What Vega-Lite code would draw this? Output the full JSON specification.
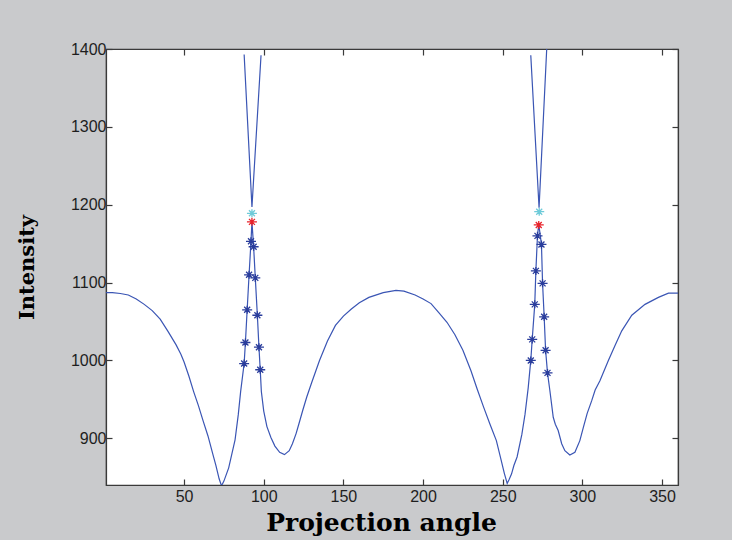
{
  "$schema": "https://vega.github.io/schema/vega-lite/v6.json",
  "width": 572,
  "height": 436,
  "autosize": {"type": "none"},
  "padding": {"left": 106, "top": 49, "right": 54, "bottom": 55},
  "background": "#c9cacc",
  "config": {
    "view": {"fill": "white", "stroke": "#3a3a3a", "strokeWidth": 1.2},
    "axis": {
      "domainColor": "#3a3a3a",
      "domainWidth": 1.2,
      "tickColor": "#3a3a3a",
      "tickWidth": 1.2,
      "tickSize": -6,
      "grid": false,
      "labelFont": "Liberation Sans",
      "labelFontSize": 16,
      "labelColor": "#1e1e1e",
      "labelFlush": false,
      "labelOverlap": false,
      "titleFont": "DejaVu Serif",
      "titleFontWeight": "bold",
      "titleFontSize": 23,
      "titleColor": "#000000"
    }
  },
  "datasets": {
    "curves": [
      {"series": "profile", "angle": 1, "intensity": 1087},
      {"series": "profile", "angle": 5, "intensity": 1087},
      {"series": "profile", "angle": 10, "intensity": 1086},
      {"series": "profile", "angle": 15, "intensity": 1084},
      {"series": "profile", "angle": 20, "intensity": 1079},
      {"series": "profile", "angle": 25, "intensity": 1072},
      {"series": "profile", "angle": 30, "intensity": 1064},
      {"series": "profile", "angle": 35, "intensity": 1053},
      {"series": "profile", "angle": 40, "intensity": 1037},
      {"series": "profile", "angle": 45, "intensity": 1020},
      {"series": "profile", "angle": 48, "intensity": 1008},
      {"series": "profile", "angle": 50, "intensity": 998},
      {"series": "profile", "angle": 53, "intensity": 980},
      {"series": "profile", "angle": 56, "intensity": 960},
      {"series": "profile", "angle": 59, "intensity": 942},
      {"series": "profile", "angle": 62, "intensity": 922},
      {"series": "profile", "angle": 65, "intensity": 903},
      {"series": "profile", "angle": 68, "intensity": 880},
      {"series": "profile", "angle": 70, "intensity": 865},
      {"series": "profile", "angle": 72, "intensity": 848},
      {"series": "profile", "angle": 73.5, "intensity": 839},
      {"series": "profile", "angle": 75, "intensity": 845},
      {"series": "profile", "angle": 78, "intensity": 862},
      {"series": "profile", "angle": 80, "intensity": 880},
      {"series": "profile", "angle": 82, "intensity": 898},
      {"series": "profile", "angle": 84, "intensity": 930},
      {"series": "profile", "angle": 85.5, "intensity": 960},
      {"series": "profile", "angle": 87.7, "intensity": 996},
      {"series": "profile", "angle": 88.5, "intensity": 1023},
      {"series": "profile", "angle": 89.6, "intensity": 1065},
      {"series": "profile", "angle": 90.8, "intensity": 1110},
      {"series": "profile", "angle": 92.0, "intensity": 1153},
      {"series": "profile", "angle": 92.6, "intensity": 1178},
      {"series": "profile", "angle": 93.65, "intensity": 1146},
      {"series": "profile", "angle": 94.7, "intensity": 1106},
      {"series": "profile", "angle": 96.0, "intensity": 1058},
      {"series": "profile", "angle": 97.0, "intensity": 1017},
      {"series": "profile", "angle": 97.8, "intensity": 988},
      {"series": "profile", "angle": 98.5, "intensity": 960},
      {"series": "profile", "angle": 100, "intensity": 935},
      {"series": "profile", "angle": 102, "intensity": 915},
      {"series": "profile", "angle": 104.5, "intensity": 901},
      {"series": "profile", "angle": 107, "intensity": 890},
      {"series": "profile", "angle": 110, "intensity": 882},
      {"series": "profile", "angle": 113, "intensity": 879},
      {"series": "profile", "angle": 116, "intensity": 884},
      {"series": "profile", "angle": 118, "intensity": 893},
      {"series": "profile", "angle": 120.3, "intensity": 906},
      {"series": "profile", "angle": 122, "intensity": 918},
      {"series": "profile", "angle": 124.5, "intensity": 936},
      {"series": "profile", "angle": 127, "intensity": 953},
      {"series": "profile", "angle": 130, "intensity": 971},
      {"series": "profile", "angle": 135, "intensity": 1000},
      {"series": "profile", "angle": 140, "intensity": 1025},
      {"series": "profile", "angle": 145, "intensity": 1045},
      {"series": "profile", "angle": 150, "intensity": 1057},
      {"series": "profile", "angle": 155, "intensity": 1066},
      {"series": "profile", "angle": 160, "intensity": 1074},
      {"series": "profile", "angle": 166, "intensity": 1081},
      {"series": "profile", "angle": 175, "intensity": 1087},
      {"series": "profile", "angle": 183, "intensity": 1090},
      {"series": "profile", "angle": 188, "intensity": 1089},
      {"series": "profile", "angle": 195, "intensity": 1084},
      {"series": "profile", "angle": 200, "intensity": 1079},
      {"series": "profile", "angle": 205, "intensity": 1073},
      {"series": "profile", "angle": 210, "intensity": 1061},
      {"series": "profile", "angle": 215, "intensity": 1049},
      {"series": "profile", "angle": 220, "intensity": 1033},
      {"series": "profile", "angle": 225, "intensity": 1013},
      {"series": "profile", "angle": 230, "intensity": 987},
      {"series": "profile", "angle": 234, "intensity": 963},
      {"series": "profile", "angle": 238, "intensity": 940},
      {"series": "profile", "angle": 242, "intensity": 918},
      {"series": "profile", "angle": 246, "intensity": 897},
      {"series": "profile", "angle": 249, "intensity": 872},
      {"series": "profile", "angle": 251, "intensity": 855},
      {"series": "profile", "angle": 252.8, "intensity": 842},
      {"series": "profile", "angle": 254, "intensity": 847},
      {"series": "profile", "angle": 255.5, "intensity": 854},
      {"series": "profile", "angle": 257, "intensity": 865},
      {"series": "profile", "angle": 259, "intensity": 876},
      {"series": "profile", "angle": 262, "intensity": 905},
      {"series": "profile", "angle": 264, "intensity": 931},
      {"series": "profile", "angle": 266, "intensity": 965},
      {"series": "profile", "angle": 267.6, "intensity": 1000},
      {"series": "profile", "angle": 268.5, "intensity": 1027},
      {"series": "profile", "angle": 270.1, "intensity": 1072},
      {"series": "profile", "angle": 270.8, "intensity": 1115},
      {"series": "profile", "angle": 271.8, "intensity": 1160},
      {"series": "profile", "angle": 272.6, "intensity": 1175},
      {"series": "profile", "angle": 274.3, "intensity": 1149},
      {"series": "profile", "angle": 275.0, "intensity": 1099},
      {"series": "profile", "angle": 276.0, "intensity": 1056},
      {"series": "profile", "angle": 276.9, "intensity": 1013},
      {"series": "profile", "angle": 278.1, "intensity": 984},
      {"series": "profile", "angle": 279.6, "intensity": 961},
      {"series": "profile", "angle": 281.7, "intensity": 927},
      {"series": "profile", "angle": 283, "intensity": 918},
      {"series": "profile", "angle": 284.8, "intensity": 910},
      {"series": "profile", "angle": 287, "intensity": 893},
      {"series": "profile", "angle": 289, "intensity": 884},
      {"series": "profile", "angle": 292.1, "intensity": 878.5},
      {"series": "profile", "angle": 295.3, "intensity": 882},
      {"series": "profile", "angle": 298.4, "intensity": 897},
      {"series": "profile", "angle": 300.6, "intensity": 914},
      {"series": "profile", "angle": 303, "intensity": 932},
      {"series": "profile", "angle": 305.8, "intensity": 948},
      {"series": "profile", "angle": 308, "intensity": 962},
      {"series": "profile", "angle": 311, "intensity": 974},
      {"series": "profile", "angle": 316.3, "intensity": 1000},
      {"series": "profile", "angle": 320.4, "intensity": 1019},
      {"series": "profile", "angle": 324.7, "intensity": 1038},
      {"series": "profile", "angle": 331, "intensity": 1058},
      {"series": "profile", "angle": 339.3, "intensity": 1072},
      {"series": "profile", "angle": 347.7, "intensity": 1081},
      {"series": "profile", "angle": 354, "intensity": 1086.5},
      {"series": "profile", "angle": 360, "intensity": 1086.5},
      {"series": "fit1", "angle": 87.7, "intensity": 1393},
      {"series": "fit1", "angle": 92.6, "intensity": 1197},
      {"series": "fit1", "angle": 98.3, "intensity": 1392},
      {"series": "fit2", "angle": 267.6, "intensity": 1392},
      {"series": "fit2", "angle": 272.8, "intensity": 1196},
      {"series": "fit2", "angle": 277.6, "intensity": 1400}
    ],
    "markers": [
      {"type": "star", "angle": 87.7, "intensity": 996},
      {"type": "star", "angle": 88.5, "intensity": 1023},
      {"type": "star", "angle": 89.6, "intensity": 1065},
      {"type": "star", "angle": 90.8, "intensity": 1110},
      {"type": "star", "angle": 92.0, "intensity": 1153},
      {"type": "star", "angle": 93.65, "intensity": 1146},
      {"type": "star", "angle": 94.7, "intensity": 1106},
      {"type": "star", "angle": 96.0, "intensity": 1058},
      {"type": "star", "angle": 97.0, "intensity": 1017},
      {"type": "star", "angle": 97.8, "intensity": 988},
      {"type": "star", "angle": 267.6, "intensity": 1000},
      {"type": "star", "angle": 268.5, "intensity": 1027},
      {"type": "star", "angle": 270.1, "intensity": 1072},
      {"type": "star", "angle": 270.8, "intensity": 1115},
      {"type": "star", "angle": 271.8, "intensity": 1160},
      {"type": "star", "angle": 274.3, "intensity": 1149},
      {"type": "star", "angle": 275.0, "intensity": 1099},
      {"type": "star", "angle": 276.0, "intensity": 1056},
      {"type": "star", "angle": 276.9, "intensity": 1013},
      {"type": "star", "angle": 278.1, "intensity": 984},
      {"type": "peak", "angle": 92.6, "intensity": 1178},
      {"type": "peak", "angle": 272.6, "intensity": 1174},
      {"type": "apex", "angle": 92.6, "intensity": 1189},
      {"type": "apex", "angle": 272.9, "intensity": 1191}
    ]
  },
  "layer": [
    {
      "data": {"name": "curves"},
      "mark": {"type": "line", "color": "#3a55b4", "strokeWidth": 1.2, "clip": true},
      "encoding": {
        "x": {
          "field": "angle", "type": "quantitative",
          "scale": {"domain": [1, 360], "nice": false, "zero": false},
          "axis": {"orient": "bottom", "values": [50, 100, 150, 200, 250, 300, 350], "format": "d", "title": "Projection angle", "titleFontSize": 25, "labelPadding": 9, "titlePadding": 6, "titleX": 275}
        },
        "y": {
          "field": "intensity", "type": "quantitative",
          "scale": {"domain": [840, 1400], "nice": false, "zero": false},
          "axis": {"orient": "left", "values": [900, 1000, 1100, 1200, 1300, 1400], "format": "d", "title": "Intensity", "titleFontSize": 21, "labelPadding": 6, "titlePadding": 33}
        },
        "detail": {"field": "series"}
      }
    },
    {
      "data": {"name": "markers"},
      "mark": {"type": "point", "shape": "M-1,0H1M0,-0.8V0.8M-0.6,-0.6L0.6,0.6M-0.6,0.6L0.6,-0.6", "filled": false, "size": 100, "strokeWidth": 1.3, "opacity": 1},
      "encoding": {
        "x": {
          "field": "angle", "type": "quantitative",
          "scale": {"domain": [1, 360], "nice": false, "zero": false},
          "axis": {"orient": "top", "values": [50, 100, 150, 200, 250, 300, 350], "labels": false, "title": null}
        },
        "y": {
          "field": "intensity", "type": "quantitative",
          "scale": {"domain": [840, 1400], "nice": false, "zero": false},
          "axis": {"orient": "right", "values": [900, 1000, 1100, 1200, 1300, 1400], "labels": false, "title": null}
        },
        "color": {
          "field": "type", "type": "nominal",
          "scale": {"domain": ["star", "peak", "apex"], "range": ["#2a3d9c", "#e8232b", "#6fcbd9"]},
          "legend": null
        }
      }
    }
  ],
  "resolve": {"axis": {"x": "independent", "y": "independent"}}
}
